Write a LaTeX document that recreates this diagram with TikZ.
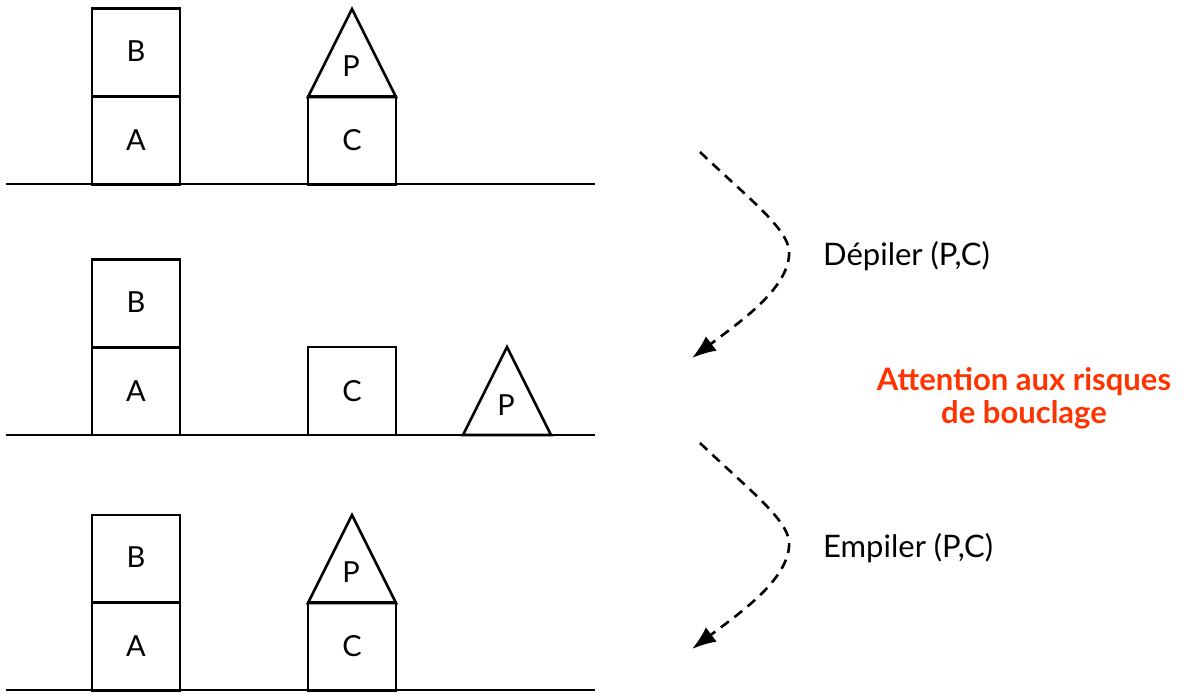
\documentclass[tikz,border=0pt]{standalone}
\usepackage{fontspec}
\setmainfont{Lato}
\usetikzlibrary{arrows.meta}
\definecolor{warnred}{RGB}{255,51,0}
\begin{document}
\begin{tikzpicture}[x=1pt,y=-1pt,
  block/.style={draw,line width=2.6pt,minimum width=88pt,minimum height=88pt,inner sep=0pt,font=\fontsize{29}{32}\selectfont},
  ground/.style={line width=2.6pt},
  roof/.style={line width=2.6pt,line join=miter},
  lbl/.style={font=\fontsize{29}{32}\selectfont,inner sep=0pt},
  move/.style={dashed,dash pattern=on 10pt off 7pt,line width=2.6pt,-{Latex[length=24pt,width=18pt]}},
  steptext/.style={font=\fontsize{31}{36}\selectfont,anchor=west,inner sep=0pt},
  warn/.style={font=\fontsize{31}{33}\selectfont\bfseries,text=warnred,align=center,inner sep=0pt}]
\useasboundingbox (0,0) rectangle (1184,695);

% --- state 1: B on A, P on C
\draw[ground] (6,184) -- (595,184);
\node[block] (a1) at (136,140.5) {A};
\node[block] (b1) at (136,52.5) {\raisebox{3pt}{B}};
\node[block] (c1) at (352,140.5) {C};
\draw[roof] (308,97) -- (352,9) -- (396,97) -- cycle;
\node[lbl] (p1) at (351,66) {P};

% --- state 2: P put down next to C
\draw[ground] (6,435) -- (595,435);
\node[block] (a2) at (136,391) {A};
\node[block] (b2) at (136,303.5) {\raisebox{3pt}{B}};
\node[block] (c2) at (352,391) {C};
\draw[roof] (463,435) -- (507,347) -- (551,435) -- cycle;
\node[lbl] (p2) at (506,405) {P};

% --- state 3: P stacked back on C
\draw[ground] (6,690) -- (595,690);
\node[block] (a3) at (136,646.5) {A};
\node[block] (b3) at (136,559) {\raisebox{3pt}{B}};
\node[block] (c3) at (352,646.5) {C};
\draw[roof] (308,603) -- (352,515) -- (396,603) -- cycle;
\node[lbl] (p3) at (351,572) {P};

% --- transitions
\coordinate (s1) at (700,152);
\coordinate (m1) at (789,256);
\coordinate (e1) at (692,358);
\draw[move] (s1) .. controls (750,200) and (793,232) .. (m1)
                 .. controls (786,290) and (740,322) .. (e1);
\node[steptext] (t1) at (823,256) {Dépiler (P,C)};

\coordinate (s2) at (700,443);
\coordinate (m2) at (789,547);
\coordinate (e2) at (692,649);
\draw[move] (s2) .. controls (750,491) and (793,523) .. (m2)
                 .. controls (786,581) and (740,613) .. (e2);
\node[steptext] (t2) at (823,548) {Empiler (P,C)};

\node[warn] (w) at (1024,398) {Attention aux risques\\de bouclage};
\end{tikzpicture}
\end{document}
